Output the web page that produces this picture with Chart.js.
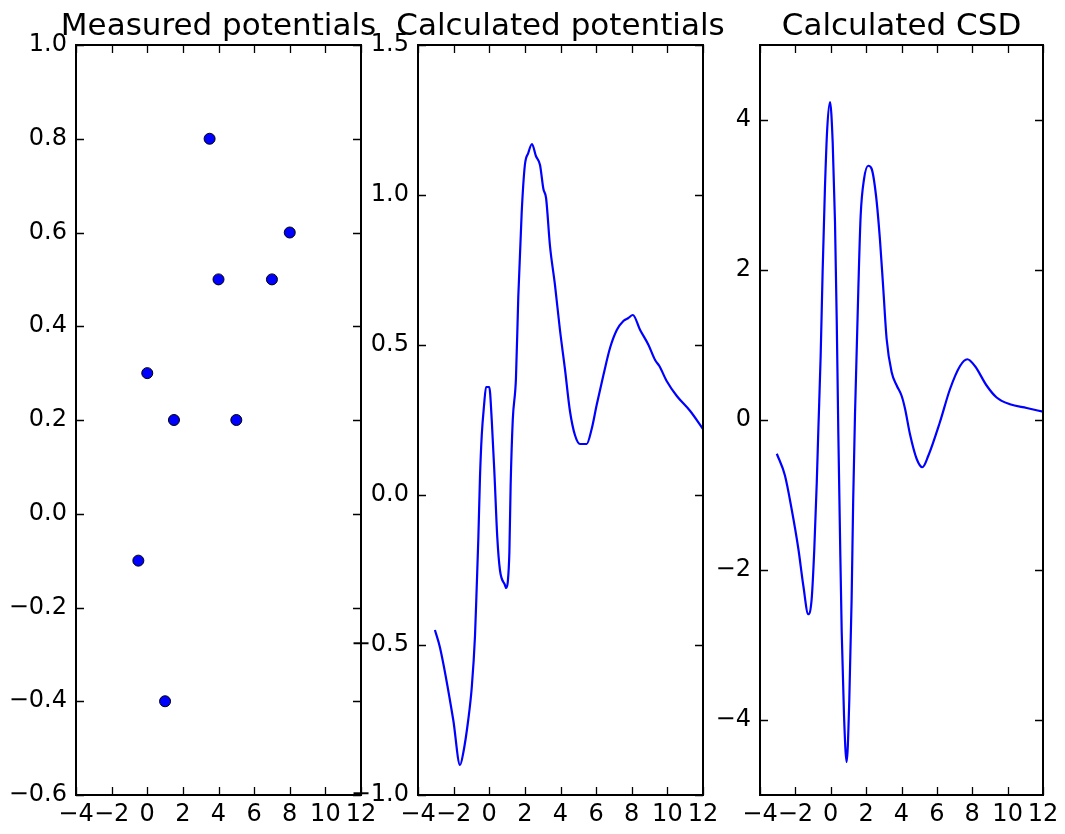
<!DOCTYPE html>
<html>
<head>
<meta charset="utf-8">
<script src="https://cdn.jsdelivr.net/npm/chart.js@4.4.1/dist/chart.umd.min.js"></script>
<style>
  body { margin: 0; background: #fff; }
  #wrap { position: relative; width: 1065px; height: 834px; }
  canvas { position: absolute; left: 0; top: 0; }
</style>
</head>
<body>
<div id="wrap">
  <canvas id="measured" width="1065" height="834"></canvas>
  <canvas id="potentials" width="1065" height="834"></canvas>
  <canvas id="csd" width="1065" height="834"></canvas>
</div>
<script>
// measured potentials (electrode positions and values)
let measuredX = [3.5, 8, 4, 7, 0, 1.5, 5, -0.5, 1];
let measuredY = [0.8, 0.6, 0.5, 0.5, 0.3, 0.2, 0.2, -0.1, -0.4];

// calculated potentials curve
let potX = [-3.05, -2.76, -2.02, -1.64, -1.46, -1.18, -0.98, -0.8, -0.7, -0.61, -0.52, -0.42, -0.29, -0.18, 0.0,
  0.14, 0.3, 0.45, 0.6, 0.88, 0.95, 1.04, 1.13, 1.2, 1.32, 1.5, 1.63, 1.82, 2.0, 2.19, 2.4, 2.62, 2.85,
  3.04, 3.19, 3.41, 3.69, 3.97, 4.25, 4.53, 4.81, 5.1, 5.47, 5.75, 6.03, 6.41, 6.78, 7.16, 7.53, 7.81,
  8.06, 8.47, 8.94, 9.31, 9.55, 9.96, 10.53, 11.28, 12.0];
let potY = [-0.45, -0.51, -0.75, -0.9, -0.86, -0.75, -0.64, -0.47, -0.3, -0.14, 0.06, 0.2, 0.3, 0.36, 0.36,
  0.25, 0.06, -0.14, -0.25, -0.3, -0.31, -0.29, -0.19, 0.03, 0.25, 0.39, 0.66, 0.94, 1.1, 1.14, 1.17, 1.13, 1.1,
  1.02, 0.99, 0.83, 0.7, 0.55, 0.42, 0.28, 0.2, 0.17, 0.17, 0.22, 0.3, 0.4, 0.49, 0.55, 0.58, 0.59,
  0.6, 0.55, 0.5, 0.45, 0.43, 0.38, 0.33, 0.28, 0.22];

// calculated CSD curve
let csdX = [-3.05, -2.59, -2.21, -1.83, -1.55, -1.27, -1.08, -0.93, -0.79, -0.7, -0.57, -0.46, -0.33, -0.2, -0.04,
  0.11, 0.24, 0.34, 0.43, 0.52, 0.62, 0.75, 0.9, 1.05, 1.18, 1.27, 1.37, 1.56, 1.69, 1.88, 2.12, 2.31, 2.56,
  2.78, 2.97, 3.16, 3.44, 3.73, 4.01, 4.2, 4.48, 4.86, 5.18, 5.51, 6.17, 6.74, 7.31, 7.72, 8.15, 8.81,
  9.38, 10.13, 11.08, 12.0];
let csdY = [-0.45, -0.74, -1.19, -1.72, -2.21, -2.59, -2.39, -1.72, -0.83, -0.12, 0.86, 1.97, 3.08, 3.88, 4.24,
  3.7, 2.64, 1.3, -0.2, -1.5, -2.83, -3.94, -4.56, -3.72, -2.39, -1.05, 0.06, 1.75, 2.72, 3.21, 3.39, 3.35, 2.99,
  2.41, 1.75, 1.08, 0.64, 0.46, 0.32, 0.15, -0.19, -0.52, -0.63, -0.48, -0.03, 0.41, 0.72, 0.81, 0.72, 0.46,
  0.3, 0.21, 0.16, 0.11];

// tick labels
let xTicks = [-4, -2, 0, 2, 4, 6, 8, 10, 12];
let measuredTicks = [-0.6, -0.4, -0.2, 0.0, 0.2, 0.4, 0.6, 0.8, 1.0];
let potTicks = [-1.0, -0.5, 0.0, 0.5, 1.0, 1.5];
let csdTicks = [-4, -2, 0, 2, 4];

const FONT = 'DejaVu Sans';
const Y_AXIS_W = 76; // wide enough that the tick labels are not squeezed

function toPoints(xs, ys) {
  return xs.map((x, i) => ({ x: x, y: ys[i] }));
}

function minus(s) {
  return String(s).replace('-', '\u2212');
}

// matplotlib style frame with inward ticks on every side, plus the axes title
// (drawn here so a title wider than its axes is not squeezed)
const framePlugin = {
  id: 'frame',
  afterDraw(chart, args, opts) {
    let ctx = chart.ctx;
    let a = chart.chartArea;
    let sx = chart.scales.x, sy = chart.scales.y;
    ctx.save();
    ctx.strokeStyle = '#000';
    ctx.lineWidth = 1.3;
    ctx.beginPath();
    sx.ticks.forEach(t => {
      let px = Math.round(sx.getPixelForValue(t.value)) + 0.5;
      ctx.moveTo(px, a.bottom); ctx.lineTo(px, a.bottom - 8);
      ctx.moveTo(px, a.top); ctx.lineTo(px, a.top + 8);
    });
    sy.ticks.forEach(t => {
      let py = Math.round(sy.getPixelForValue(t.value)) + 0.5;
      ctx.moveTo(a.left, py); ctx.lineTo(a.left + 8, py);
      ctx.moveTo(a.right, py); ctx.lineTo(a.right - 8, py);
    });
    ctx.stroke();
    ctx.lineWidth = 2;
    ctx.strokeRect(a.left, a.top, a.right - a.left, a.bottom - a.top);

    ctx.fillStyle = '#000';
    ctx.font = '31px "' + FONT + '"';
    ctx.textAlign = 'center';
    ctx.textBaseline = 'alphabetic';
    ctx.fillText(opts.text, (a.left + a.right) / 2, 35);
    ctx.restore();
  }
};

function makeChart(id, title, datasets, yMin, yMax, yTicks, decimals, padLeft, padRight) {
  return new Chart(document.getElementById(id), {
    type: 'scatter',
    data: { datasets: datasets },
    options: {
      responsive: false,
      animation: false,
      devicePixelRatio: 1,
      layout: { padding: { left: padLeft, right: padRight, top: 45, bottom: 0 } },
      plugins: {
        legend: { display: false },
        tooltip: { enabled: false },
        frame: { text: title }
      },
      scales: {
        x: {
          type: 'linear',
          min: -4,
          max: 12,
          afterBuildTicks: scale => { scale.ticks = xTicks.map(v => ({ value: v })); },
          afterFit: scale => { scale.height = 39; },
          grid: { display: false, drawTicks: false },
          border: { display: false },
          ticks: {
            color: '#000',
            padding: 5,
            maxRotation: 0,
            autoSkip: false,
            font: { family: FONT, size: 24 },
            callback: v => minus(v)
          }
        },
        y: {
          type: 'linear',
          min: yMin,
          max: yMax,
          afterBuildTicks: scale => { scale.ticks = yTicks.map(v => ({ value: v })); },
          afterFit: scale => { scale.width = Y_AXIS_W; },
          grid: { display: false, drawTicks: false },
          border: { display: false },
          ticks: {
            color: '#000',
            padding: 9,
            autoSkip: false,
            font: { family: FONT, size: 24 },
            callback: v => minus(v.toFixed(decimals))
          }
        }
      }
    },
    plugins: [framePlugin]
  });
}

let lineStyle = {
  showLine: true,
  borderColor: '#0000ff',
  borderWidth: 2.2,
  pointRadius: 0,
  cubicInterpolationMode: 'monotone'
};

makeChart('measured', 'Measured potentials', [{
  data: toPoints(measuredX, measuredY),
  backgroundColor: '#0000ff',
  borderColor: '#000',
  borderWidth: 1,
  pointRadius: 5.5
}], -0.6, 1.0, measuredTicks, 1, 76 - Y_AXIS_W, 704);

makeChart('potentials', 'Calculated potentials', [Object.assign({
  data: toPoints(potX, potY)
}, lineStyle)], -1.0, 1.5, potTicks, 1, 418 - Y_AXIS_W, 362);

makeChart('csd', 'Calculated CSD', [Object.assign({
  data: toPoints(csdX, csdY)
}, lineStyle)], -5, 5, csdTicks, 0, 760 - Y_AXIS_W, 22);
</script>
</body>
</html>
